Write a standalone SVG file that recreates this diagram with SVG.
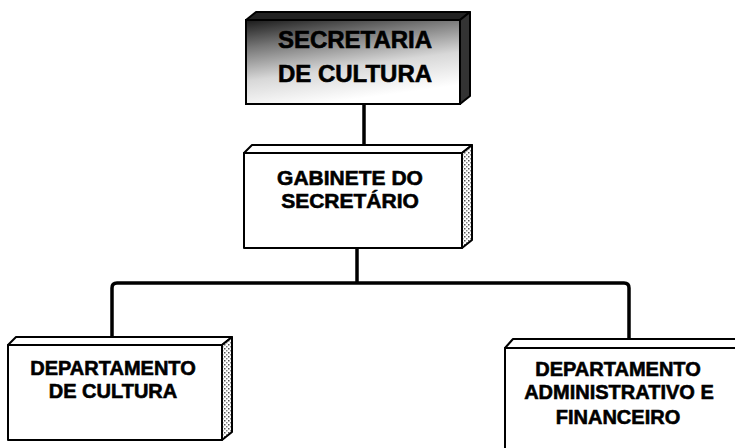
<svg xmlns="http://www.w3.org/2000/svg" width="735" height="448" viewBox="0 0 735 448">
<style>
.face{fill:#fff;stroke:#000;stroke-width:2;stroke-linejoin:round}
.side{fill:url(#stip);stroke:#000;stroke-width:2;stroke-linejoin:round}
.lbl{font-family:"Liberation Sans",Arial,sans-serif;font-weight:bold;fill:#000;stroke:#000;stroke-width:0.6;text-anchor:middle}
.conn{fill:none;stroke:#000;stroke-width:3.5;stroke-linejoin:round}
</style>
<defs>
<pattern id="stip" width="4" height="4" patternUnits="userSpaceOnUse">
<rect width="4" height="4" fill="#fff"/>
<rect x="0" y="0" width="1.5" height="1.5" fill="#555"/>
<rect x="2" y="2" width="1.5" height="1.5" fill="#888"/>
</pattern>
<linearGradient id="shade" x1="0" y1="0" x2="0.35" y2="1">
<stop offset="0" stop-color="#1a1a1a"/>
<stop offset="0.3" stop-color="#777"/>
<stop offset="0.65" stop-color="#d8d8d8"/>
<stop offset="1" stop-color="#fff"/>
</linearGradient>
</defs>
<g id="connectors">
<path class="conn" d="M364 104 V146"/>
<path class="conn" d="M357 248 V283"/>
<path class="conn" d="M112 338 V288 Q112 283 117 283 H624 Q629 283 629 288 V339"/>
</g>
<g id="secretaria">
<path class="face" d="M246 20 L256 12 H470 L460 20 Z" style="fill:#222"/>
<path class="side" d="M460 20 L470 12 V96 L460 104 Z" style="fill:#333"/>
<rect x="246" y="20" width="214" height="84" fill="url(#shade)" stroke="#000" stroke-width="2"/>
<text class="lbl" x="355" y="48" font-size="24">SECRETARIA</text>
<text class="lbl" x="355" y="82" font-size="24">DE CULTURA</text>
</g>
<g id="gabinete">
<path class="face" d="M244 153 L252 145 H472 L462 153 Z"/>
<path class="side" d="M462 153 L472 145 V240 L462 248 Z"/>
<rect class="face" x="244" y="153" width="218" height="95"/>
<text class="lbl" x="350" y="185" font-size="21">GABINETE DO</text>
<text class="lbl" x="350" y="208" font-size="21">SECRETÁRIO</text>
</g>
<g id="dep-cultura">
<path class="face" d="M8 345 L16 337 H232 L222 345 Z"/>
<path class="side" d="M222 345 L232 337 V432 L222 440 Z"/>
<rect class="face" x="8" y="345" width="214" height="95"/>
<text class="lbl" x="113" y="375" font-size="20">DEPARTAMENTO</text>
<text class="lbl" x="113" y="398" font-size="20">DE CULTURA</text>
</g>
<g id="dep-admin">
<path class="face" d="M505 348 L513 339 H760 L752 348 Z"/>
<rect class="face" x="505" y="348" width="250" height="110"/>
<text class="lbl" x="618" y="376" font-size="20">DEPARTAMENTO</text>
<text class="lbl" x="619" y="399" font-size="20">ADMINISTRATIVO E</text>
<text class="lbl" x="618" y="424" font-size="20">FINANCEIRO</text>
</g>
</svg>
